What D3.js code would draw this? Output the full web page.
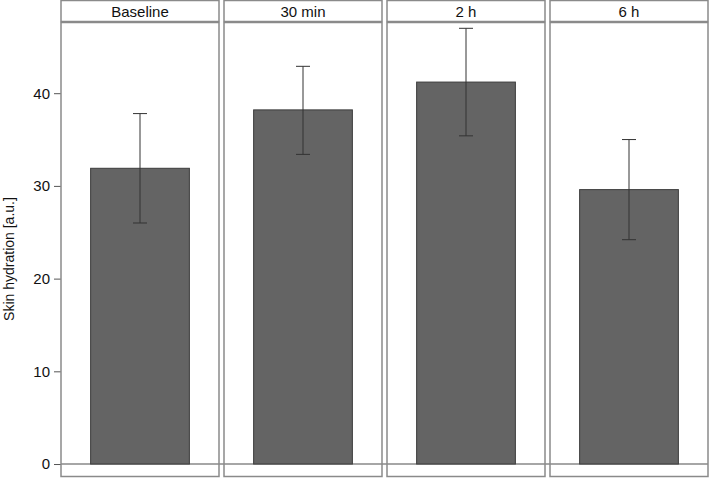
<!DOCTYPE html>
<html><head><meta charset="utf-8">
<script src="https://cdn.jsdelivr.net/npm/d3@7"></script>
<style>body{margin:0;background:#fff}svg{display:block}text{font-family:"Liberation Sans",Arial,sans-serif}</style>
</head><body><svg id="c" width="709" height="478"></svg>
<script>
const categories = ["Baseline", "30 min", "2 h", "6 h"];
const means = [31.9, 38.2, 41.2, 29.6];
const upper = [37.8, 42.9, 47.0, 35.0];
const lower = [26.0, 33.4, 35.4, 24.2];
const yTicks = [0, 10, 20, 30, 40];
const yLabel = "Skin hydration [a.u.]";

const svg = d3.select("#c");
const left = 61, right = 708, gap = 5, stripTop = 0.5, stripH = 21, panelTop = 22.5, panelBottom = 476.5;
const pw = (right - left - gap * (categories.length - 1)) / categories.length;

const y = d3.scaleLinear().domain([-1.4, 47.68]).range([477, 22]);
const px = d3.scaleBand().domain(categories).range([left, right]).paddingInner(gap / (pw + gap)).paddingOuter(0);

// y axis
const axis = d3.axisLeft(y).tickValues(yTicks).tickSize(7).tickPadding(4);
const ag = svg.append("g").attr("transform", `translate(${left},0)`).call(axis);
ag.select(".domain").remove();
ag.selectAll(".tick line").attr("stroke", "#555");
ag.selectAll(".tick text").attr("font-size", 15).attr("fill", "#111");

svg.append("text").attr("transform", `translate(14,259) rotate(-90)`).attr("text-anchor", "middle")
  .attr("font-size", 14).attr("fill", "#111").text(yLabel);

// zero line across all panels
svg.append("line").attr("x1", left).attr("x2", right).attr("y1", y(0)).attr("y2", y(0))
  .attr("stroke", "#888").attr("stroke-width", 1.3);

categories.forEach((c, i) => {
  const x0 = px(c), w = px.bandwidth();
  const g = svg.append("g");
  // strip
  g.append("rect").attr("x", x0).attr("y", stripTop).attr("width", w).attr("height", stripH)
    .attr("fill", "#fff").attr("stroke", "#8a8a8a").attr("stroke-width", 1.5);
  g.append("text").attr("x", x0 + w / 2).attr("y", stripTop + stripH / 2 + 5.5).attr("text-anchor", "middle")
    .attr("font-size", 15).attr("fill", "#111").text(c);
  // panel
  g.append("rect").attr("x", x0).attr("y", panelTop).attr("width", w).attr("height", panelBottom - panelTop)
    .attr("fill", "none").attr("stroke", "#8a8a8a").attr("stroke-width", 1.5);
  const xb = d3.scaleBand().domain([c]).range([x0, x0 + w]).paddingInner(0).paddingOuter(0.3);
  const bx = xb(c), bw = xb.bandwidth(), cx = bx + bw / 2;
  g.append("rect").attr("x", bx).attr("y", y(means[i])).attr("width", bw).attr("height", y(0) - y(means[i]))
    .attr("fill", "#646464").attr("stroke", "#3c3c3c").attr("stroke-width", 1);
  // error bar
  g.append("line").attr("x1", cx).attr("x2", cx).attr("y1", y(upper[i])).attr("y2", y(lower[i]))
    .attr("stroke", "#333").attr("stroke-width", 1);
  [upper[i], lower[i]].forEach(v => {
    g.append("line").attr("x1", cx - 7).attr("x2", cx + 7).attr("y1", y(v)).attr("y2", y(v))
      .attr("stroke", "#333").attr("stroke-width", 1);
  });
});
</script></body></html>
